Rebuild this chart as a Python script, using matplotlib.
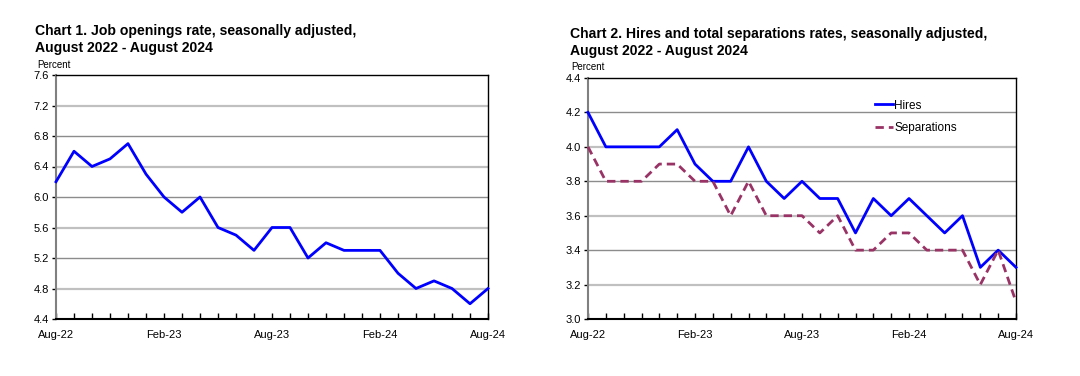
import matplotlib

matplotlib.use("Agg")
import matplotlib.pyplot as plt  # noqa: E402
import numpy as np  # noqa: E402

plt.rcParams["font.family"] = ["Liberation Sans", "DejaVu Sans"]

months = ["Aug-22", "Sep-22", "Oct-22", "Nov-22", "Dec-22", "Jan-23", "Feb-23", "Mar-23",
          "Apr-23", "May-23", "Jun-23", "Jul-23", "Aug-23", "Sep-23", "Oct-23", "Nov-23",
          "Dec-23", "Jan-24", "Feb-24", "Mar-24", "Apr-24", "May-24", "Jun-24", "Jul-24",
          "Aug-24"]
openings = [6.2, 6.6, 6.4, 6.5, 6.7, 6.3, 6.0, 5.8, 6.0, 5.6, 5.5, 5.3, 5.6, 5.6, 5.2, 5.4,
            5.3, 5.3, 5.3, 5.0, 4.8, 4.9, 4.8, 4.6, 4.8]
hires = [4.2, 4.0, 4.0, 4.0, 4.0, 4.1, 3.9, 3.8, 3.8, 4.0, 3.8, 3.7, 3.8, 3.7, 3.7, 3.5,
         3.7, 3.6, 3.7, 3.6, 3.5, 3.6, 3.3, 3.4, 3.3]
separations = [4.0, 3.8, 3.8, 3.8, 3.9, 3.9, 3.8, 3.8, 3.6, 3.8, 3.6, 3.6, 3.6, 3.5, 3.6, 3.4,
               3.4, 3.5, 3.5, 3.4, 3.4, 3.4, 3.2, 3.4, 3.1]
yticks1 = [4.4, 4.8, 5.2, 5.6, 6.0, 6.4, 6.8, 7.2, 7.6]
yticks2 = [3.0, 3.2, 3.4, 3.6, 3.8, 4.0, 4.2, 4.4]

W, H = 1080, 376
fig = plt.figure(figsize=(W / 100, H / 100), dpi=100)


def px_axes(l, t, r, b):
    return fig.add_axes([l / W, 1 - b / H, (r - l) / W, (b - t) / H])


def style(ax, yticks, fmt):
    x = np.arange(len(months))
    ax.set_xlim(0, len(months) - 1)
    ax.set_ylim(yticks[0], yticks[-1])
    ax.set_yticks(yticks)
    ax.set_yticklabels([fmt % v for v in yticks], fontsize=8)
    ax.set_xticks(x)
    ax.set_xticklabels([m if i % 6 == 0 else "" for i, m in enumerate(months)], fontsize=8)
    ax.tick_params(axis="x", direction="in", length=4, width=1, pad=8)
    ax.tick_params(axis="y", direction="out", length=3, width=1, pad=2)
    for i, v in enumerate(yticks[1:-1]):
        c, lw = ("#c0c0c0", 1.6) if i % 2 == 0 else ("#8c8c8c", 1.0)
        ax.axhline(v, color=c, lw=lw, zorder=1)
    for s in ax.spines.values():
        s.set_color("#000000")
        s.set_linewidth(1)
    ax.spines["left"].set_color("#808080")
    ax.spines["left"].set_linewidth(1.5)
    ax.spines["bottom"].set_linewidth(1.5)
    return x


# Chart 1
ax1 = px_axes(56, 75, 488, 319)
x = style(ax1, yticks1, "%.1f")
ax1.plot(x, openings, color="#0000FF", lw=2, zorder=3, clip_on=False)
fig.text(35 / W, 1 - 39.5 / H, "Chart 1. Job openings rate, seasonally adjusted,\nAugust 2022 - August 2024",
         fontsize=10.1, fontweight="bold", va="center", ha="left", linespacing=1.25)
fig.text(37 / W, 1 - 65 / H, "Percent", fontsize=7, va="center")

# Chart 2
ax2 = px_axes(588, 78, 1016, 319)
x = style(ax2, yticks2, "%.1f")
ax2.plot(x, hires, color="#0000FF", lw=2, zorder=3, clip_on=False, label="Hires")
ax2.plot(x, separations, color="#993366", lw=2, zorder=3, clip_on=False, dashes=(3, 1.8),
         label="Separations")
ax2.legend(loc="upper left", bbox_to_anchor=(0.66, 0.93), frameon=False, fontsize=8.5,
           handlelength=1.5, handletextpad=0.1, labelspacing=0.9, borderaxespad=0)
fig.text(570 / W, 1 - 42.5 / H,
         "Chart 2. Hires and total separations rates, seasonally adjusted,\nAugust 2022 - August 2024",
         fontsize=10.05, fontweight="bold", va="center", ha="left", linespacing=1.25)
fig.text(571 / W, 1 - 67 / H, "Percent", fontsize=7, va="center")

fig.savefig("out.png", dpi=100)
